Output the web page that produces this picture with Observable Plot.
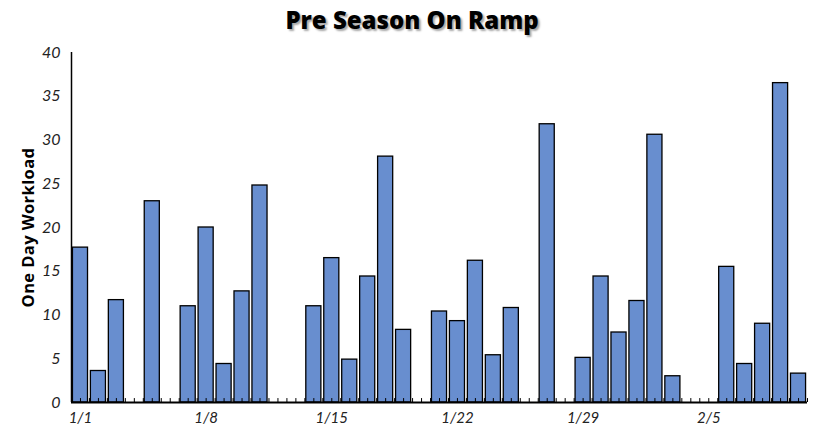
<!DOCTYPE html>
<html>
<head>
<meta charset="utf-8">
<script src="https://cdn.jsdelivr.net/npm/d3@7"></script>
<script src="https://cdn.jsdelivr.net/npm/@observablehq/plot@0.6"></script>
<style>
  html, body { margin: 0; padding: 0; background: #fff; }
  #wrap { width: 824px; height: 437px; overflow: hidden; }
  #title {
    height: 40px; line-height: 40px; text-align: center;
    font-family: "Open Sans", sans-serif; font-weight: 800; font-size: 24px;
    color: #000; text-shadow: 2px 2px 2px rgba(0,0,0,0.35);
  }
  #chart svg g[aria-label="text"] text { letter-spacing: 0.4px; }
</style>
</head>
<body>
<div id="wrap">
  <div id="title">Pre Season On Ramp</div>
  <div id="chart"></div>
</div>
<script>
// Days with a recorded workload (m/d) and values
const barDays = ["1/1","1/2","1/3","1/5","1/7","1/8","1/9","1/10","1/11",
  "1/14","1/15","1/16","1/17","1/18","1/19",
  "1/21","1/22","1/23","1/24","1/25",
  "1/27",
  "1/29","1/30","1/31","2/1","2/2","2/3",
  "2/6","2/7","2/8","2/9","2/10"];
const workload = [17.7,3.6,11.7,23.0,11.0,20.0,4.4,12.7,24.8,
  11.0,16.5,4.9,14.4,28.1,8.3,
  10.4,9.3,16.2,5.4,10.8,
  31.8,
  5.1,14.4,8.0,11.6,30.6,3.0,
  15.5,4.4,9.0,36.5,3.3];
const xTickLabels = ["1/1","1/8","1/15","1/22","1/29","2/5"];
const yTicks = [0,5,10,15,20,25,30,35,40];
const yLabel = "One Day Workload";
const firstDay = "1/1", lastDay = "2/10";

function dayIndex(s) {
  const [m, d] = s.split("/").map(Number);
  return (Date.UTC(2023, m - 1, d) - Date.UTC(2023, 0, 1)) / 864e5;
}
const nDays = dayIndex(lastDay) - dayIndex(firstDay) + 1;
const data = barDays.map((d, i) => ({day: d, i: dayIndex(d), v: workload[i]}));
const minorTicks = d3.range(0, nDays + 0.25, 0.5);
const labelMap = new Map(xTickLabels.map(l => [dayIndex(l) + 0.5, l]));

const chart = Plot.plot({
  width: 824,
  height: 397,
  marginTop: 12,
  marginBottom: 35,
  marginLeft: 71,
  marginRight: 17,
  style: {fontFamily: "Lato, 'Open Sans', sans-serif", fontSize: "15px", color: "#222", background: "#fff"},
  x: {domain: [0, nDays], axis: null},
  y: {domain: [0, 40], axis: null},
  marks: [
    Plot.rectY(data, {x1: d => d.i + 0.08, x2: d => d.i + 0.92, y: "v", fill: "#688ecf", stroke: "#000", strokeWidth: 1.3}),
    Plot.ruleX(minorTicks, {x: d => d, y1: 0, y2: 0.45, stroke: "#000", strokeWidth: 1}),
    Plot.ruleY([0], {stroke: "#000", strokeWidth: 2}),
    Plot.ruleX([0], {stroke: "#000", strokeWidth: 1.5}),
    Plot.axisX({ticks: [...labelMap.keys()], tickFormat: t => labelMap.get(t), tickSize: 0, tickPadding: 10, fontStyle: "italic", fontSize: 15, label: null}),
    Plot.axisY({ticks: yTicks, tickSize: 0, tickPadding: 11, fontStyle: "italic", fontSize: 16, label: null}),
    Plot.text([yLabel], {text: d => d, frameAnchor: "left", textAnchor: "middle", rotate: -90, dx: -43, fontWeight: 700, fontSize: 16.5, fontFamily: "'Open Sans', sans-serif", fill: "#000"})
  ]
});
document.getElementById("chart").appendChild(chart);
</script>
</body>
</html>
